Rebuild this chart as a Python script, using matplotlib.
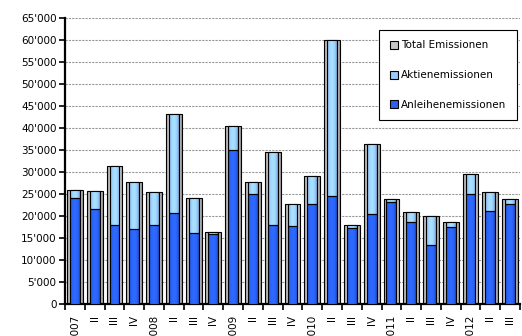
import numpy as np
import matplotlib
matplotlib.use("Agg")
import matplotlib.pyplot as plt
from matplotlib.patches import Patch
from matplotlib.ticker import FuncFormatter, MultipleLocator

quarters = ["2007", "II", "III", "IV", "2008", "II", "III", "IV",
            "2009", "II", "III", "IV", "2010", "II", "III", "IV",
            "2011", "II", "III", "IV", "2012", "II", "III"]
total = np.array([26000, 25700, 31400, 27800, 25400, 43100, 24200, 16400,
                  40500, 27800, 34600, 22700, 29100, 60000, 17900, 36300,
                  23900, 20900, 19900, 18700, 29500, 25400, 23900])
anleihen = np.array([24200, 21600, 17900, 17000, 17900, 20600, 16100, 16000,
                     35100, 24900, 18000, 17700, 22700, 24600, 17200, 20400,
                     23100, 18600, 13300, 17500, 24900, 21100, 22700])
aktien = total - anleihen

c_total = np.array([0.78, 0.78, 0.78])
c_aktien = np.array([0.60, 0.80, 1.00])
c_anleihen = np.array([0.16, 0.38, 0.95])

plt.rcParams["font.family"] = "DejaVu Sans"

fig = plt.figure(figsize=(5.22, 3.36), dpi=100)
ax = fig.add_axes([65 / 522, 32 / 336, 455 / 522, 286 / 336])

x = np.arange(len(quarters))
b_tot = ax.bar(x, total, width=0.8, color=c_total, edgecolor="black", linewidth=0.8, zorder=2)
b_anl = ax.bar(x, anleihen, width=0.5, color=c_anleihen, edgecolor="black", linewidth=0.8, zorder=3)
b_akt = ax.bar(x, aktien, width=0.5, bottom=anleihen, color=c_aktien, edgecolor="black", linewidth=0.8, zorder=3)


def shade(bars, rgb):
    # cylinder-like horizontal shading inside each bar
    t = np.linspace(0, 1, 64)
    f = 0.72 + 0.38 * np.sin(np.pi * t) ** 0.6
    img = np.clip(rgb[None, :] * f[:, None], 0, 1)[None, :, :]
    for b in bars:
        x0, y0 = b.get_x(), b.get_y()
        w, h = b.get_width(), b.get_height()
        im = ax.imshow(img, extent=[x0, x0 + w, y0, y0 + h], aspect="auto",
                       interpolation="bilinear", zorder=b.get_zorder() - 0.01)
        im.set_clip_path(b)
        b.set_facecolor("none")


shade(b_tot, c_total)
shade(b_anl, c_anleihen)
shade(b_akt, c_aktien)

ax.set_xlim(-0.5, len(quarters) - 0.5)
ax.set_ylim(0, 65000)
ax.yaxis.set_major_locator(MultipleLocator(5000))
ax.yaxis.set_major_formatter(FuncFormatter(lambda v, p: f"{int(v):,}".replace(",", "'")))
ax.set_xticks(x)
ax.set_xticklabels(quarters, rotation=90, fontsize=7.5)
ax.set_xticks(np.arange(-0.5, len(quarters), 1), minor=True)
ax.tick_params(axis="x", which="major", length=0, pad=8)
ax.tick_params(axis="x", which="minor", length=4, width=1.2, direction="out")
ax.tick_params(axis="y", length=4, width=1.2, labelsize=7.5, pad=2)

ax.set_axisbelow(True)
ax.yaxis.grid(True, color="#999999", linestyle=(0, (2, 1)), linewidth=0.8)
for s in ("top", "right"):
    ax.spines[s].set_visible(False)
ax.spines["left"].set_linewidth(1.6)
ax.spines["bottom"].set_linewidth(1.6)

handles = [Patch(facecolor=c_total, edgecolor="black", linewidth=0.8),
           Patch(facecolor=c_aktien, edgecolor="black", linewidth=0.8),
           Patch(facecolor=c_anleihen, edgecolor="black", linewidth=0.8)]
leg = ax.legend(handles, ["Total Emissionen", "Aktienemissionen", "Anleihenemissionen"],
                loc="upper right", bbox_to_anchor=(0.993, 0.958), borderaxespad=0,
                fontsize=7.5, fancybox=False, framealpha=1, edgecolor="black",
                handlelength=0.8, handleheight=0.8, handletextpad=0.3,
                labelspacing=1.9, borderpad=1.0)
leg.get_frame().set_linewidth(0.8)

fig.savefig("out.png", dpi=100)
